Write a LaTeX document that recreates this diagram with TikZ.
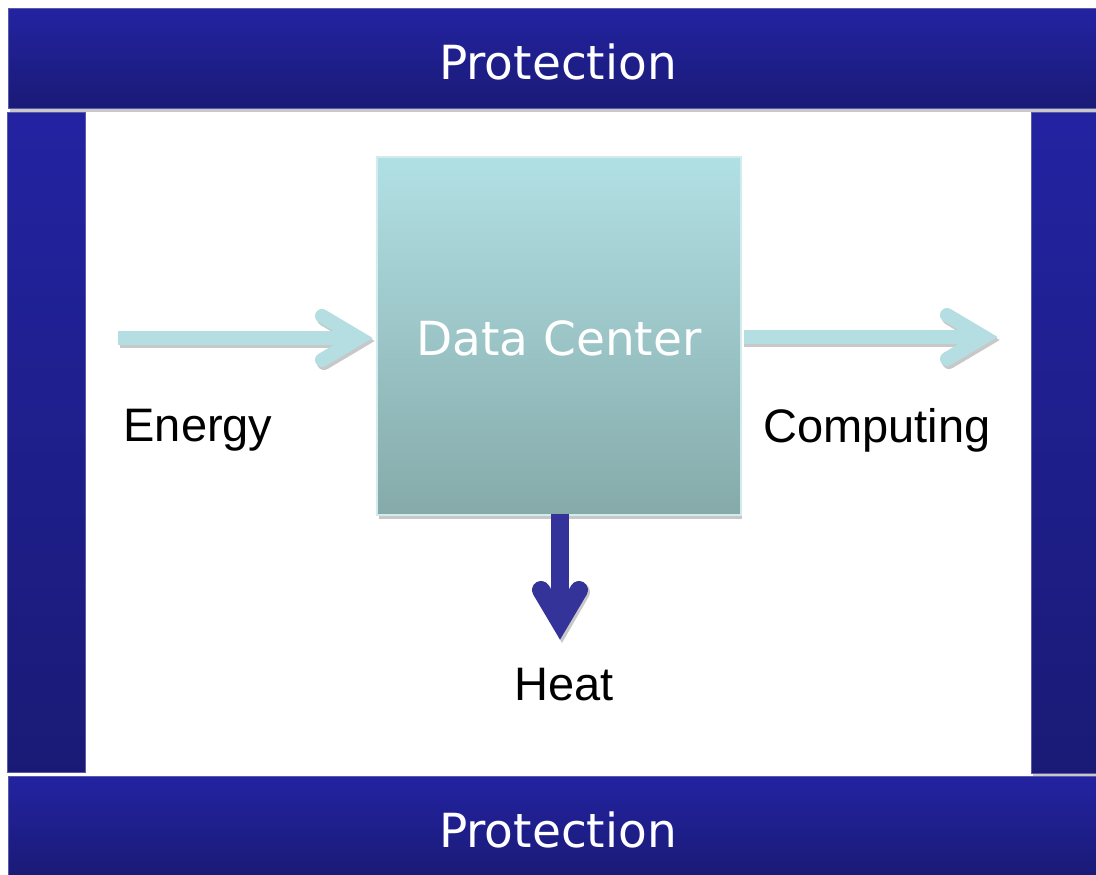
\documentclass[tikz,border=0pt]{standalone}
\usepackage{fontspec}
\setmainfont{DejaVu Sans}
\newfontfamily\arialfont{Liberation Sans}
\definecolor{bartop}{RGB}{35,35,162}
\definecolor{barbot}{RGB}{26,26,118}
\definecolor{barline}{RGB}{90,90,170}
\definecolor{dctop}{RGB}{177,224,228}
\definecolor{dcbot}{RGB}{134,170,170}
\definecolor{dcline}{RGB}{210,236,238}
\definecolor{lightarr}{RGB}{180,222,226}
\definecolor{darkarr}{RGB}{51,51,153}
\definecolor{shadowgray}{RGB}{200,200,200}
\tikzset{
  bar/.style={rectangle, inner sep=0pt, top color=bartop, bottom color=barbot, draw=barline, line width=1pt},
  bartext/.style={text=white, font=\fontsize{47}{56}\selectfont},
  dcbox/.style={rectangle, inner sep=0pt, top color=dctop, bottom color=dcbot, draw=dcline, line width=1.5pt,
     text=white, font=\fontsize{47}{56}\selectfont},
  lbl/.style={inner sep=0pt, text=black, font=\arialfont\fontsize{47}{56}\selectfont},
  lshaft/.style={draw=lightarr, line width=14pt},
  lhead/.style={draw=lightarr, line width=14pt, line cap=round, line join=miter},
  sshaft/.style={draw=shadowgray, line width=14pt},
  shead/.style={draw=shadowgray, line width=14pt, line cap=round, line join=miter},
  dshaft/.style={draw=darkarr, line width=18pt},
  dhead/.style={draw=darkarr, line width=18pt, line cap=round, line join=miter},
}
\begin{document}
\begin{tikzpicture}[x=1pt,y=-1pt]
\useasboundingbox (0,0) rectangle (1096,875);
\fill[white] (0,0) rectangle (1096,875);
% shadows of bars
\fill[shadowgray] (10,12) rectangle (1096,112);
\fill[shadowgray] (1033,116) rectangle (1096,776);
% bars
\node[bar, anchor=north west, minimum width=1090pt, minimum height=100pt] (top) at (8,8) {};
\node[bartext] (toptext) at (558,62) {Protection};
\node[bar, anchor=north west, minimum width=78pt, minimum height=660pt, top color=bartop, bottom color=barbot] (left) at (7,112) {};
\node[bar, anchor=north west, minimum width=66pt, minimum height=661pt] (right) at (1031,112) {};
\node[bar, anchor=north west, minimum width=1090pt, minimum height=100pt] (bottom) at (8,776) {};
\node[bartext] (bottext) at (558,830) {Protection};
% data center
\fill[shadowgray] (379,160) rectangle (742,519);
\node[dcbox, anchor=north west, minimum width=364pt, minimum height=358pt] (dc) at (376,156) {};
\node[text=white, font=\fontsize{47}{56}\selectfont] (dctext) at (559,338) {Data Center};
% coordinates
\coordinate (ein) at (118,338);
\coordinate (etip) at (359,338);
\coordinate (ctip) at (984,337);
\coordinate (htip) at (560,622);
% energy arrow shadow
\draw[sshaft] ([shift={(2,3)}]ein) -- ([shift={(2,3)}]etip);
\draw[shead] ([shift={(-35,-19)}]etip) ++(0,0) -- ([shift={(2,3)}]etip) -- ([shift={(-35,25)}]etip);
% energy arrow
\draw[lshaft] (ein) -- (etip);
\draw[lhead] ([shift={(-37,-22)}]etip) -- (etip) -- ([shift={(-37,22)}]etip);
% computing arrow shadow
\draw[sshaft] ([shift={(2,3)}]dc.east |- ctip) -- ([shift={(2,3)}]ctip);
\draw[shead] ([shift={(-35,-19)}]ctip) -- ([shift={(2,3)}]ctip) -- ([shift={(-35,25)}]ctip);
% computing arrow
\draw[lshaft] ([xshift=2pt]dc.east |- ctip) -- (ctip);
\draw[lhead] ([shift={(-37,-22)}]ctip) -- (ctip) -- ([shift={(-37,22)}]ctip);
% heat arrow
\draw[draw=shadowgray, line width=18pt, line cap=round, line join=miter] ([shift={(-17,-30)}]htip) -- ([shift={(2,3)}]htip) -- ([shift={(21,-30)}]htip);
\draw[dshaft] ([yshift=2pt]dc.south -| htip) -- (htip);
\draw[dhead] ([shift={(-19,-32)}]htip) -- (htip) -- ([shift={(19,-32)}]htip);
% labels
\node[lbl] (energy) at (198,430) {Energy};
\node[lbl] (computing) at (877,430) {Computing};
\node[lbl] (heat) at (564,685) {Heat};
\end{tikzpicture}
\end{document}
